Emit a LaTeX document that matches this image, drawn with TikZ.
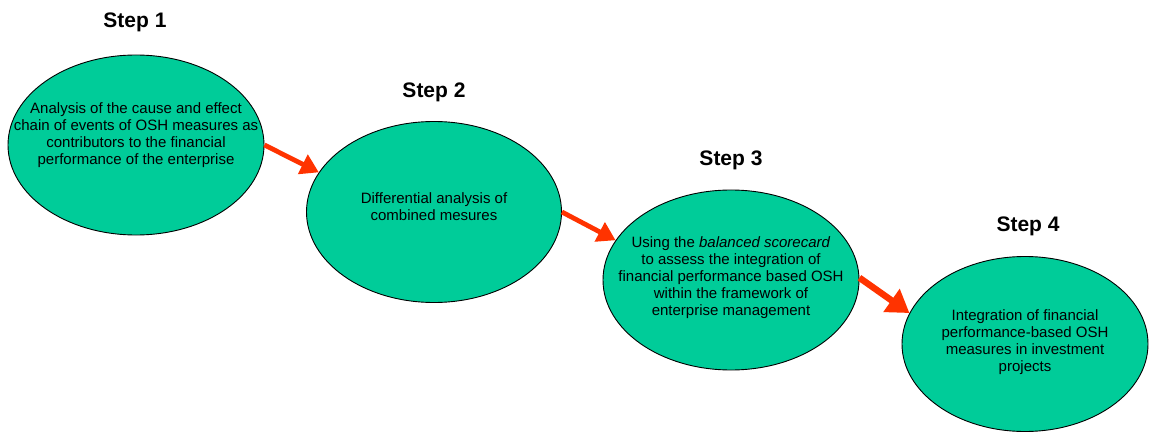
\documentclass[tikz,border=0pt]{standalone}
\usepackage{fontspec}
\setmainfont{Liberation Sans}
\usetikzlibrary{shapes.geometric,arrows.meta}
\definecolor{ovalfill}{RGB}{0,204,153}
\definecolor{arrowred}{RGB}{255,51,0}
\begin{document}
\begin{tikzpicture}[x=1pt,y=-1pt,
  oval/.style={ellipse,draw=black,line width=0.9pt,fill=ovalfill,inner sep=0pt},
  body/.style={align=center,font=\fontsize{15}{17}\selectfont,inner sep=0pt},
  steplabel/.style={font=\fontsize{21}{24}\selectfont\bfseries,inner sep=0pt},
  arr/.style={draw=arrowred,line width=4.8pt,-{Triangle[length=18pt,width=21pt]}},
  bigarr/.style={draw=arrowred,line width=6.5pt,-{Triangle[length=22pt,width=27pt]}}]
\useasboundingbox (0,0) rectangle (1149,433);
% ellipses
\node[oval,minimum width=256pt,minimum height=180pt] (e1) at (136,145) {};
\node[oval,minimum width=255pt,minimum height=181pt] (e2) at (434,212) {};
\node[oval,minimum width=256pt,minimum height=180pt] (e3) at (731,280) {};
\node[oval,minimum width=246pt,minimum height=175pt] (e4) at (1025,344) {};
% texts
\node[body] (t1) at (136,135) {Analysis of the cause and effect\\chain of events of OSH measures as\\contributors to the financial\\performance of the enterprise};
\node[body] (t2) at (434,207) {Differential analysis of\\combined mesures};
\node[body] (t3) at (731,278) {Using the \textit{balanced scorecard}\\to assess the integration of\\financial performance based OSH\\within the framework of\\enterprise management};
\node[body] (t4) at (1025,342) {Integration of financial\\performance-based OSH\\measures in investment\\projects};
% step labels
\node[steplabel] (s1) at (135,22) {Step 1};
\node[steplabel] (s2) at (434,92) {Step 2};
\node[steplabel] (s3) at (731,160) {Step 3};
\node[steplabel] (s4) at (1028,226) {Step 4};
% arrows
\draw[arr] (e1.east) -- (e2.161.7);
\draw[arr] (e2.east) -- (e3.161);
\draw[bigarr] (e3.1) -- (e4.165);
\end{tikzpicture}
\end{document}
